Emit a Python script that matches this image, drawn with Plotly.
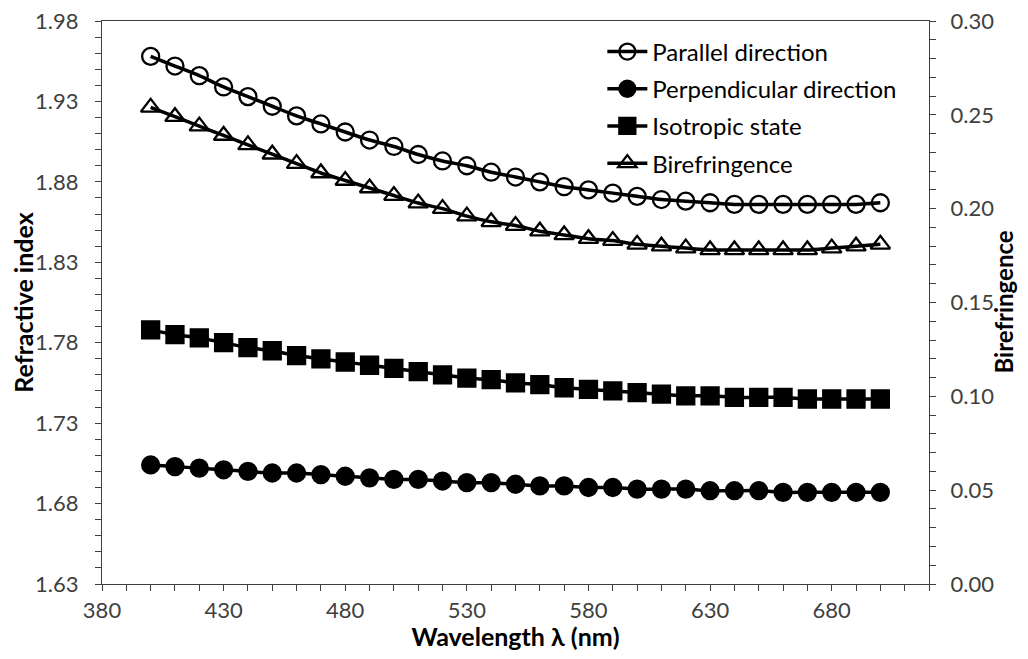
import plotly.graph_objects as go

# ─────────────────────────────────────
# data
# ─────────────────────────────────────
wavelength = [400, 410, 420, 430, 440, 450, 460, 470, 480, 490, 500,
              510, 520, 530, 540, 550, 560, 570, 580, 590, 600,
              610, 620, 630, 640, 650, 660, 670, 680, 690, 700]

parallel = [1.958, 1.952, 1.946, 1.939, 1.933, 1.927, 1.921, 1.916, 1.911, 1.906, 1.902,
            1.897, 1.893, 1.890, 1.886, 1.883, 1.880, 1.877, 1.875, 1.873, 1.871,
            1.869, 1.868, 1.867, 1.866, 1.866, 1.866, 1.866, 1.866, 1.866, 1.867]

perpendicular = [1.704, 1.703, 1.702, 1.701, 1.700, 1.699, 1.699, 1.698, 1.697, 1.696, 1.695,
                 1.695, 1.694, 1.693, 1.693, 1.692, 1.691, 1.691, 1.690, 1.690, 1.689,
                 1.689, 1.689, 1.688, 1.688, 1.688, 1.687, 1.687, 1.687, 1.687, 1.687]

isotropic = [1.788, 1.785, 1.783, 1.780, 1.777, 1.775, 1.772, 1.770, 1.768, 1.766, 1.764,
             1.762, 1.760, 1.758, 1.757, 1.755, 1.754, 1.752, 1.751, 1.750, 1.749,
             1.748, 1.747, 1.747, 1.746, 1.746, 1.746, 1.745, 1.745, 1.745, 1.745]

birefringence = [0.254, 0.249, 0.244, 0.239, 0.234, 0.229, 0.224, 0.219, 0.215, 0.211, 0.207,
                 0.203, 0.200, 0.196, 0.193, 0.191, 0.188, 0.186, 0.184, 0.183, 0.181,
                 0.180, 0.179, 0.178, 0.178, 0.178, 0.178, 0.178, 0.179, 0.180, 0.181]

FONT = "Lato, 'Open Sans', sans-serif"
INK = "#000000"
AXIS = "#404040"

fig = go.Figure()


def add_series(name, y, symbol, axis="y"):
    fig.add_trace(go.Scatter(
        x=wavelength, y=y, name=name, yaxis=axis,
        mode="lines+markers",
        line=dict(color=INK, width=3.5, shape="spline", smoothing=0.8),
        marker=dict(symbol=symbol, size=17, color=INK,
                    line=dict(color=INK, width=2.3)),
        legendgroup=name,
    ))


add_series("Parallel direction", parallel, "circle-open")
add_series("Perpendicular direction", perpendicular, "circle")
add_series("Isotropic state", isotropic, "square")
add_series("Birefringence", birefringence, "triangle-up-open", axis="y2")

# ─────────────────────────────────────
# axes
# ─────────────────────────────────────
tick_font = dict(family=FONT, size=22, color="#404040")
title_font = dict(family=FONT, size=25, color=INK, weight="bold")
tick_style = dict(ticks="outside", ticklen=6, tickcolor=AXIS, tickwidth=1.3)
axis_common = dict(
    showline=True, linecolor=AXIS, linewidth=1.3,
    showgrid=False, zeroline=False, automargin=False,
    tickfont=tick_font, ticklabeloverflow="allow",
)

# page body adds an 8px margin all round, so the figure is 16px smaller than the
# window (no scrollbars)
fig.update_layout(
    width=1012, height=643,
    margin=dict(l=94, r=91, t=13, b=67),
    paper_bgcolor="white", plot_bgcolor="white",
    font=dict(family=FONT, color=INK),
    xaxis=dict(
        range=[380, 720], tick0=380, dtick=50,
        **tick_style,
        minor=dict(dtick=10, **tick_style),
        mirror=True,
        **axis_common,
        title=dict(text="Wavelength λ (nm)", font=title_font, standoff=5),
    ),
    yaxis=dict(
        range=[1.63, 1.98], tick0=1.63, dtick=0.05, tickformat=".2f",
        **tick_style,
        minor=dict(dtick=0.01, **tick_style),
        ticklabelstandoff=12,
        **axis_common,
        title=dict(text="Refractive index", font=title_font),
    ),
    yaxis2=dict(
        overlaying="y", side="right",
        range=[0, 0.30], tick0=0, dtick=0.05, tickformat=".2f",
        **tick_style,
        minor=dict(dtick=0.01, **tick_style),
        ticklabelstandoff=10,
        **axis_common,
    ),
    legend=dict(
        x=0.605, y=0.985, xanchor="left", yanchor="top",
        bgcolor="rgba(0,0,0,0)", borderwidth=0,
        font=dict(family=FONT, size=24, color=INK),
        tracegroupgap=3, itemwidth=40,
    ),
    showlegend=True,
)

# right-hand axis title, placed just outside the tick labels
fig.add_annotation(
    text="Birefringence", font=dict(family=FONT, size=24, color=INK, weight="bold"),
    textangle=-90,
    xref="paper", yref="paper", x=1, y=0.5,
    xanchor="center", yanchor="middle", xshift=74, showarrow=False,
)

fig.write_html("out.html")
